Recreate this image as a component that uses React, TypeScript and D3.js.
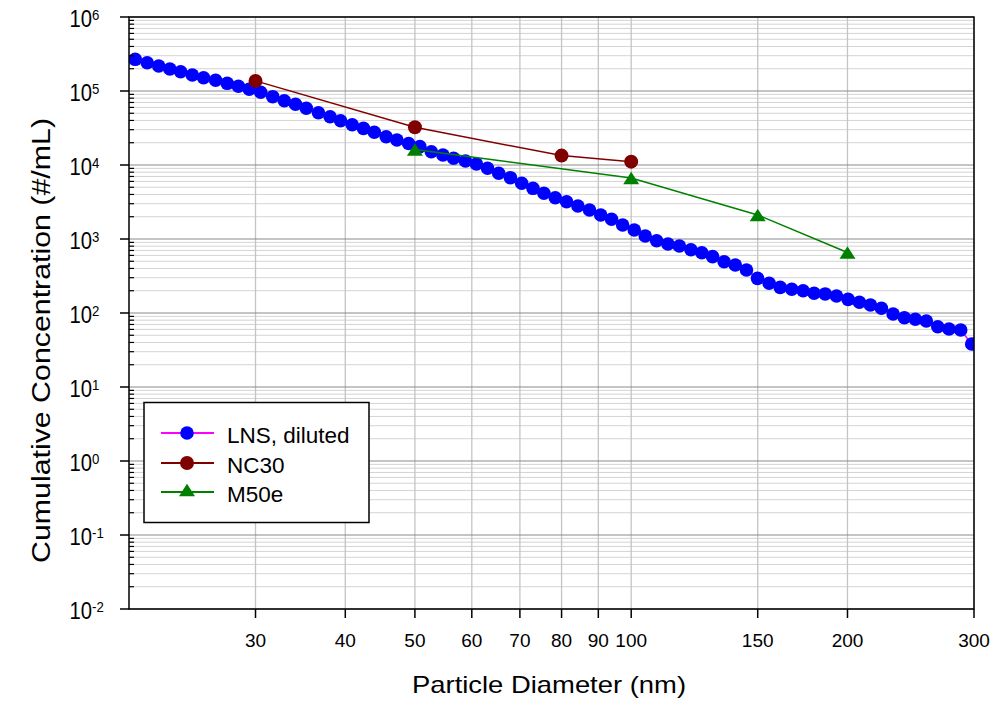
import React from "react";
import * as d3 from "d3";

// ---- Data ----
const lnsDiameter = [
  20.4, 21.2, 22.0, 22.8, 23.6, 24.5, 25.4, 26.4, 27.4, 28.4,
  29.4, 30.5, 31.7, 32.9, 34.1, 35.3, 36.7, 38.1, 39.4, 40.9,
  42.4, 43.9, 45.6, 47.2, 49.0, 50.8, 52.7, 54.7, 56.6, 58.8,
  60.9, 63.1, 65.4, 67.9, 70.4, 73.0, 75.6, 78.4, 81.3, 84.3,
  87.5, 90.7, 93.9, 97.3, 101.0, 104.6, 108.5, 112.5, 116.7, 121.1,
  125.4, 129.8, 134.7, 139.6, 144.7, 149.9, 155.6, 161.2, 167.3, 173.5,
  179.7, 186.2, 193.1, 200.4, 207.8, 215.3, 223.0, 231.5, 240.0, 248.6,
  257.5, 267.1, 276.9, 287.5, 297.8,
];
const lnsConc = [
  2.68e5, 2.41e5, 2.18e5, 1.98e5, 1.82e5, 1.645e5, 1.51e5, 1.395e5, 1.27e5, 1.157e5,
  1.054e5, 9.6e4, 8.38e4, 7.39e4, 6.61e4, 5.84e4, 5.09e4, 4.49e4, 3.97e4, 3.5e4,
  3.13e4, 2.77e4, 2.41e4, 2.18e4, 1.95e4, 1.77e4, 1.51e4, 1.365e4, 1.232e4, 1.133e4,
  1.031e4, 9.03e3, 7.72e3, 6.74e3, 5.66e3, 4.84e3, 4.15e3, 3.61e3, 3.19e3, 2.79e3,
  2.47e3, 2.11e3, 1.846e3, 1.546e3, 1.323e3, 1.098e3, 948, 856, 804, 717,
  653, 577, 493, 445, 381, 294, 252, 222, 209, 200,
  185, 181, 170, 153, 139.5, 128, 115.7, 96.9, 86.4, 82.2,
  78.0, 65.3, 60.8, 58.9, 38.1,
];
const nc30Diameter = [30, 50, 80, 100];
const nc30Conc = [1.37e5, 3.23e4, 1.34e4, 1.11e4];
const m50eDiameter = [50, 100, 150, 200];
const m50eConc = [1.62e4, 6.67e3, 2.11e3, 657];

const xTickValues = [30, 40, 50, 60, 70, 80, 90, 100, 150, 200, 300];
const yDecadeExponents = [-2, -1, 0, 1, 2, 3, 4, 5, 6];
const legendLabels = ["LNS, diluted", "NC30", "M50e"];

const FONT = "'Liberation Sans', Arial, Helvetica, sans-serif";
const W = 1001;
const H = 702;
const L = 129, R = 974, T = 17, B = 609;

const TRI = "M0,-6.3L8,6.3L-8,6.3Z";

export default function App() {
  const x = d3.scaleLog().domain([20, 300]).range([L, R]);
  const y = d3.scaleLog().domain([1e-2, 1e6]).range([B, T]);

  const minorY: number[] = [];
  yDecadeExponents.slice(0, -1).forEach((e) => {
    for (let k = 2; k <= 9; k++) minorY.push(k * Math.pow(10, e));
  });

  const line = d3
    .line<[number, number]>()
    .x((d) => x(d[0]))
    .y((d) => y(d[1]));

  const lns: [number, number][] = lnsDiameter.map((d, i) => [d, lnsConc[i]]);
  const nc: [number, number][] = nc30Diameter.map((d, i) => [d, nc30Conc[i]]);
  const m5: [number, number][] = m50eDiameter.map((d, i) => [d, m50eConc[i]]);

  const legendRows = [433, 463, 492];

  return (
    <svg
      width={W}
      height={H}
      style={{ position: "absolute", left: 0, top: 0, background: "#fff" }}
      fontFamily={FONT}
    >
      <defs>
        <clipPath id="plotClip">
          <rect x={L} y={T} width={R - L} height={B - T} />
        </clipPath>
      </defs>
      <rect x={0} y={0} width={W} height={H} fill="#fff" />

      {/* minor horizontal grid */}
      {minorY.map((v, i) => (
        <line key={"mg" + i} x1={L} x2={R} y1={y(v)} y2={y(v)} stroke="#d4d4d4" strokeWidth={1} />
      ))}
      {/* vertical grid */}
      {xTickValues.map((v) => (
        <line key={"vg" + v} x1={x(v)} x2={x(v)} y1={T} y2={B} stroke="#c4c4c4" strokeWidth={1.3} />
      ))}
      {/* major horizontal grid */}
      {yDecadeExponents.map((e) => (
        <line
          key={"Mg" + e}
          x1={L}
          x2={R}
          y1={y(Math.pow(10, e))}
          y2={y(Math.pow(10, e))}
          stroke="#8a8a8a"
          strokeWidth={1.2}
        />
      ))}

      {/* data */}
      <g clipPath="url(#plotClip)">
        <path d={line(lns) || ""} fill="none" stroke="#ff00ff" strokeWidth={1.5} />
        {lns.map((d, i) => (
          <circle key={"l" + i} cx={x(d[0])} cy={y(d[1])} r={6.8} fill="#0000ff" />
        ))}
        <path d={line(nc) || ""} fill="none" stroke="#800000" strokeWidth={1.5} />
        {nc.map((d, i) => (
          <circle key={"n" + i} cx={x(d[0])} cy={y(d[1])} r={7} fill="#800000" />
        ))}
        <path d={line(m5) || ""} fill="none" stroke="#008000" strokeWidth={1.5} />
        {m5.map((d, i) => (
          <path key={"m" + i} d={TRI} transform={`translate(${x(d[0])},${y(d[1])})`} fill="#008000" />
        ))}
      </g>

      {/* frame */}
      <rect x={L} y={T} width={R - L} height={B - T} fill="none" stroke="#000" strokeWidth={1.5} />

      {/* y ticks */}
      {yDecadeExponents.map((e) => (
        <line key={"yt" + e} x1={L - 9} x2={L} y1={y(Math.pow(10, e))} y2={y(Math.pow(10, e))} stroke="#000" strokeWidth={1.5} />
      ))}
      {minorY.map((v, i) => (
        <line key={"ymt" + i} x1={L} x2={L + 5} y1={y(v)} y2={y(v)} stroke="#000" strokeWidth={1.2} />
      ))}
      {/* y tick labels */}
      {yDecadeExponents.map((e) => (
        <text
          key={"yl" + e}
          transform={`translate(69.5,${y(Math.pow(10, e)) + 10}) scale(0.88,1)`}
          fontSize={23}
          fill="#000"
        >
          10
          <tspan fontSize={15} dy={-7.5}>
            {String(e)}
          </tspan>
        </text>
      ))}

      {/* x ticks */}
      {xTickValues.map((v) => (
        <line key={"xt" + v} x1={x(v)} x2={x(v)} y1={B} y2={B + 9} stroke="#000" strokeWidth={1.5} />
      ))}
      {xTickValues.map((v) => (
        <text key={"xl" + v} x={x(v)} y={646.5} fontSize={19} textAnchor="middle" fill="#000">
          {String(v)}
        </text>
      ))}

      {/* axis titles */}
      <text x={549} y={692.5} fontSize={24} textAnchor="middle" textLength={274} lengthAdjust="spacingAndGlyphs" fill="#000">
        Particle Diameter (nm)
      </text>
      <text
        transform="translate(50,340.5) rotate(-90)"
        fontSize={25}
        textAnchor="middle"
        textLength={445}
        lengthAdjust="spacingAndGlyphs"
        fill="#000"
      >
        Cumulative Concentration (#/mL)
      </text>

      {/* legend */}
      <rect x={144} y={402.5} width={225} height={120} fill="#fff" stroke="#000" strokeWidth={1.5} />
      <line x1={161} x2={214} y1={legendRows[0]} y2={legendRows[0]} stroke="#ff00ff" strokeWidth={1.8} />
      <circle cx={187} cy={legendRows[0]} r={6.8} fill="#0000ff" />
      <line x1={161} x2={214} y1={legendRows[1]} y2={legendRows[1]} stroke="#800000" strokeWidth={1.8} />
      <circle cx={187} cy={legendRows[1]} r={7} fill="#800000" />
      <line x1={161} x2={214} y1={legendRows[2]} y2={legendRows[2]} stroke="#008000" strokeWidth={1.8} />
      <path d={TRI} transform={`translate(187,${legendRows[2] - 2})`} fill="#008000" />
      {legendLabels.map((t, i) => (
        <text key={t} x={227} y={legendRows[i] + 9.5} fontSize={22.5} fill="#000">
          {t}
        </text>
      ))}
    </svg>
  );
}
